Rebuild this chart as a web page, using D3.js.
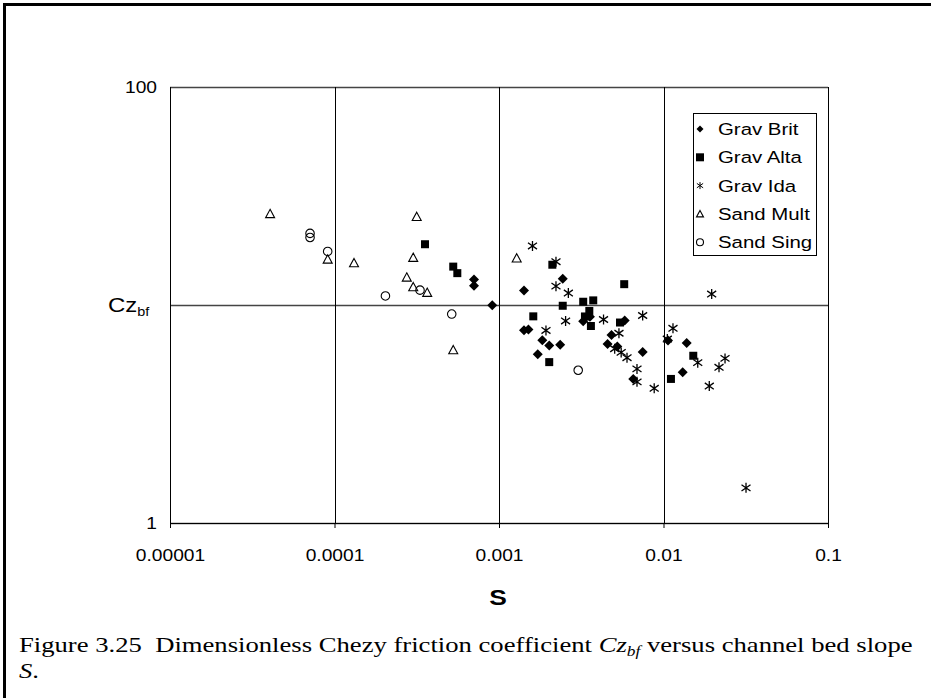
<!DOCTYPE html>
<html><head><meta charset="utf-8">
<script src="https://cdn.jsdelivr.net/npm/d3@7"></script>
<style>body{margin:0;background:#fff}svg{display:block}</style>
</head><body>
<svg id="c" width="931" height="698"></svg>
<script>
const xTicks = [0.00001, 0.0001, 0.001, 0.01, 0.1];
const xTickLabels = ["0.00001", "0.0001", "0.001", "0.01", "0.1"];
const yTicks = [1, 10, 100];
const yTickLabels = ["1", "10", "100"];
const seriesNames = ["Grav Brit", "Grav Alta", "Grav Ida", "Sand Mult", "Sand Sing"];

const gravBrit = [[7.05e-4,13.1],[7.05e-4,12.26],[9.1e-4,9.97],[2.44e-3,13.2],[1.419e-3,11.65],[3.25e-3,8.42],[3.57e-3,8.84],[1.419e-3,7.66],[1.51e-3,7.72],[1.833e-3,6.89],[2.02e-3,6.52],[2.355e-3,6.57],[1.72e-3,5.94],[4.83e-3,7.29],[4.57e-3,6.62],[5.24e-3,6.45],[5.81e-3,8.49],[7.47e-3,6.09],[6.55e-3,4.58],[0.01065,6.87],[0.01384,6.69],[0.01308,4.91]];
const gravAlta = [[3.55e-4,19.0],[5.27e-4,15.0],[5.58e-4,14.0],[2.11e-3,15.3],[1.616e-3,8.87],[2.44e-3,9.92],[3.25e-3,10.35],[3.74e-3,10.5],[3.54e-3,9.39],[3.33e-3,8.86],[3.62e-3,8.01],[2.02e-3,5.47],[5.77e-3,12.46],[5.44e-3,8.31],[0.01517,5.85],[0.0111,4.58]];
const gravIda = [[1.598e-3,18.65],[2.22e-3,15.8],[2.22e-3,12.2],[2.64e-3,11.35],[2.54e-3,8.45],[1.93e-3,7.64],[4.32e-3,8.58],[7.47e-3,8.95],[5.36e-3,7.42],[5.05e-3,6.30],[5.53e-3,6.06],[6.0e-3,5.73],[6.9e-3,5.09],[6.9e-3,4.44],[8.78e-3,4.15],[0.01142,7.82],[0.01055,6.98],[0.01963,11.23],[0.01615,5.44],[0.02366,5.69],[0.02175,5.18],[0.01898,4.25],[0.03174,1.45]];
const sandMult = [[4.06e-5,26.2],[9.09e-5,16.2],[1.314e-4,15.6],[3.16e-4,25.4],[3.01e-4,16.5],[2.75e-4,13.4],[3.01e-4,12.1],[3.66e-4,11.4],[5.27e-4,6.22],[1.281e-3,16.4]];
const sandSing = [[7.1e-5,21.3],[7.1e-5,20.4],[9.09e-5,17.6],[2.04e-4,11.0],[3.31e-4,11.7],[5.16e-4,9.09],[3.03e-3,5.02]];

const svg = d3.select("#c");
const W = 931, H = 698;
const SX = 1.2; // horizontal text stretch seen in the reference
const SXC = 1.24;
const sans = "Liberation Sans, Arial, sans-serif";
const serif = "Liberation Serif, 'Times New Roman', serif";
const m = {l:170, r:828, t:87, b:523};
const x = d3.scaleLog().domain([xTicks[0], xTicks[xTicks.length-1]]).range([m.l, m.r]);
const y = d3.scaleLog().domain([yTicks[0], yTicks[yTicks.length-1]]).range([m.b, m.t]);

// frame
svg.append("path").attr("d", `M4.5,${H+5} L4.5,4.5 L${W+5},4.5`).attr("fill","none").attr("stroke","#000").attr("stroke-width",3);

// gridlines
svg.append("g").selectAll("line").data(yTicks).join("line")
  .attr("x1", m.l).attr("x2", m.r).attr("y1", d=>Math.round(y(d))+0.5).attr("y2", d=>Math.round(y(d))+0.5)
  .attr("stroke","#444").attr("stroke-width",1.3);
svg.append("g").selectAll("line").data(xTicks).join("line")
  .attr("y1", m.t).attr("y2", m.b).attr("x1", d=>Math.round(x(d))+0.5).attr("x2", d=>Math.round(x(d))+0.5)
  .attr("stroke","#000").attr("stroke-width",1);

// axes
const xAxis = d3.axisBottom(x).tickValues(xTicks).tickFormat((d,i)=>xTickLabels[i]).tickSizeOuter(0).tickSize(5).tickPadding(22);
const gx = svg.append("g").attr("transform", `translate(0,${m.b})`).call(xAxis);
gx.select(".domain").attr("stroke","#000");
gx.selectAll("text").attr("font-family",sans).attr("font-size",16).attr("fill","#000")
  .attr("transform", `scale(${SX},1)`);
const yAxis = d3.axisLeft(y).tickValues(yTicks).tickFormat((d,i)=>yTickLabels[i]).tickSizeOuter(0).tickSize(0).tickPadding(13);
const gy = svg.append("g").attr("transform", `translate(${m.l},0)`).call(yAxis);
gy.select(".domain").attr("stroke","#000");
gy.selectAll("text").attr("font-family",sans).attr("font-size",16).attr("fill","#000")
  .attr("x", -13/SX).attr("transform", `scale(${SX},1)`);
// the "10" label is covered by the axis title in the reference
gy.selectAll(".tick").filter(d => d === 10).select("text").remove();

// axis titles
svg.append("text").attr("transform", `translate(498,605) scale(${SX},1)`).attr("text-anchor","middle")
  .attr("font-family",sans).attr("font-weight","bold").attr("font-size",22).text("S");
const yt = svg.append("text").attr("transform", `translate(108,312) scale(${SX},1)`)
  .attr("font-family",sans).attr("font-size",20);
yt.append("tspan").text("Cz");
yt.append("tspan").attr("dy",4).attr("font-size",12).text("bf");

// symbol shapes
function shapePath(type, s) {
  const h = s/2;
  switch(type) {
    case "diamond": return `M0,${-h}L${h},0L0,${h}L${-h},0Z`;
    case "square": return `M${-h},${-h}H${h}V${h}H${-h}Z`;
    case "triangle": return `M0,${-h}L${h},${h*0.85}L${-h},${h*0.85}Z`;
    case "circle": return `M${h},0A${h},${h} 0 1,1 ${-h},0A${h},${h} 0 1,1 ${h},0Z`;
    case "star": { const a=h*0.9; return `M0,${-h}V${h}M${-a},${-a*0.7}L${a},${a*0.7}M${-a},${a*0.7}L${a},${-a*0.7}`; }
  }
}
const styles = {
  diamond: {fill:"#000", stroke:"none", sw:0},
  square: {fill:"#000", stroke:"none", sw:0},
  star: {fill:"none", stroke:"#000", sw:1.3},
  triangle: {fill:"none", stroke:"#000", sw:1.1},
  circle: {fill:"none", stroke:"#000", sw:1.1}
};
const series = [
  {name:seriesNames[0], data:gravBrit, type:"diamond", size:10},
  {name:seriesNames[1], data:gravAlta, type:"square", size:8},
  {name:seriesNames[2], data:gravIda, type:"star", size:10},
  {name:seriesNames[3], data:sandMult, type:"triangle", size:9},
  {name:seriesNames[4], data:sandSing, type:"circle", size:8.5}
];
series.forEach(s => {
  const st = styles[s.type];
  svg.append("g").selectAll("path").data(s.data).join("path")
    .attr("transform", d=>`translate(${x(d[0])},${y(d[1])})`)
    .attr("d", shapePath(s.type, s.size))
    .attr("fill", st.fill).attr("stroke", st.stroke).attr("stroke-width", st.sw);
});

// legend
const lg = svg.append("g");
lg.append("rect").attr("x",693.5).attr("y",113.5).attr("width",123).attr("height",142)
  .attr("fill","#fff").attr("stroke","#000").attr("stroke-width",1);
const legendSizes = {diamond:7, square:8, star:7, triangle:7, circle:7};
series.forEach((s,i) => {
  const cy = 129 + i*28.3;
  const st = styles[s.type];
  lg.append("path").attr("transform",`translate(700,${cy})`).attr("d", shapePath(s.type, legendSizes[s.type]))
    .attr("fill", st.fill).attr("stroke", st.stroke).attr("stroke-width", s.type==="star"?1:st.sw);
  lg.append("text").attr("transform",`translate(718,${cy+6}) scale(${SX},1)`).attr("font-family",sans)
    .attr("font-size",17).text(s.name);
});

// caption
const cap = svg.append("text").attr("transform",`translate(19,652) scale(${SXC},1)`).attr("font-family",serif).attr("font-size",21.5);
cap.append("tspan").text("Figure 3.25\u00a0 Dimensionless Chezy friction coefficient ");
cap.append("tspan").attr("font-style","italic").text("Cz");
cap.append("tspan").attr("font-style","italic").attr("font-size",14).attr("dy",4).text("bf");
cap.append("tspan").attr("dy",-4).text(" versus channel bed slope");
const cap2 = svg.append("text").attr("transform",`translate(19,678) scale(${SXC},1)`).attr("font-family",serif).attr("font-size",21.5);
cap2.append("tspan").attr("font-style","italic").text("S");
cap2.append("tspan").text(".");
</script>
</body></html>
